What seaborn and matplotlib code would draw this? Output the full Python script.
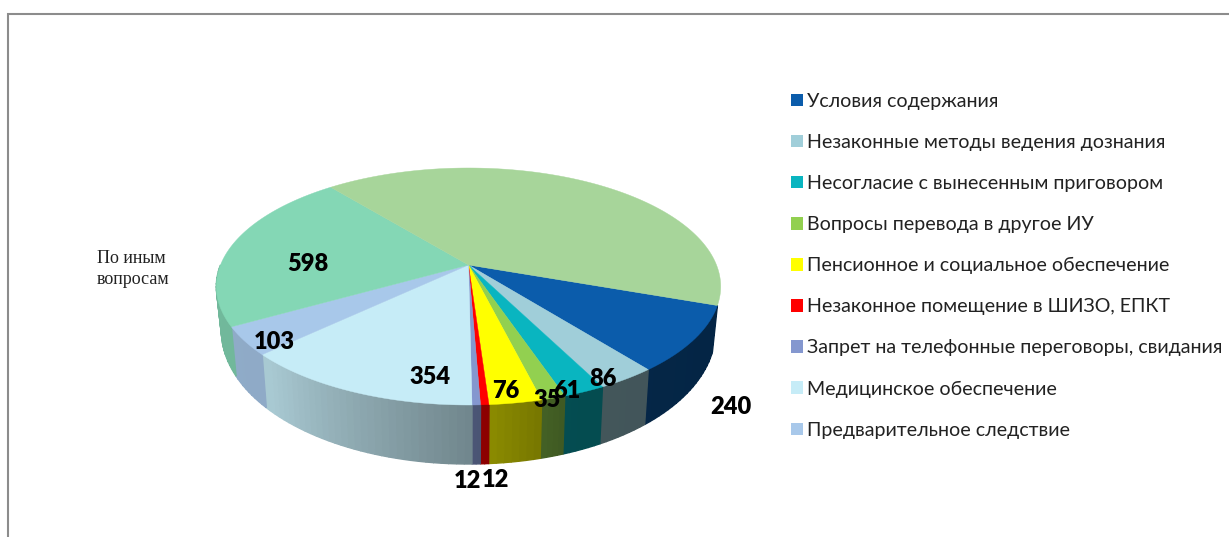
import numpy as np
import matplotlib
matplotlib.use('Agg')
import matplotlib.pyplot as plt
from matplotlib.patches import Patch
import seaborn as sns

categories = [
    'Условия содержания',
    'Незаконные методы ведения дознания',
    'Несогласие с вынесенным приговором',
    'Вопросы перевода в другое ИУ',
    'Пенсионное и социальное обеспечение',
    'Незаконное помещение в ШИЗО, ЕПКТ',
    'Запрет на телефонные переговоры, свидания',
    'Медицинское обеспечение',
    'Предварительное следствие',
    'По иным вопросам',
    'Без подписи',
]
values = [240, 86, 61, 35, 76, 12, 12, 354, 103, 598, 1110]
value_labels = ['240', '86', '61', '35', '76', '12', '12', '354', '103', '598', '']
colors = ['#0b5cab', '#a0ced9', '#09b5c0', '#92d050', '#ffff00', '#ff0000',
          '#8497cf', '#c6ecf7', '#a8c8ea', '#84d7b5', '#a7d59a']

# где стоят подписи значений, в пикселях картинки
label_px = [(731, 407), (603, 379), (567, 391), (547, 400), (506, 391),
            (495, 480), (467, 481), (430, 377), (274, 342), (308, 264)]

sns.set_theme(style='white')
plt.rcParams['font.family'] = ['Lato', 'DejaVu Sans']
palette = sns.color_palette(colors)

fig, ax = plt.subplots(figsize=(12.29, 5.37), dpi=100)
ax.set_position([0, 0, 1, 1])
ax.set_xlim(0, 1229)
ax.set_ylim(537, 0)
ax.axis('off')

# параметры псевдо-3D круга
cx, cy = 468.5, 265
R, B, p = 248, 114.6, 0.1814
start_deg = 19.4


def top_rim(theta):
    s = np.sin(theta)
    k = 1 / (1 - p * s)
    return cx + R * np.cos(theta) * k, cy + B * s * k


def bottom_rim(theta):
    x, y = top_rim(theta)
    return cx + (x - cx) * 0.98, y + 40 + 19 * np.sin(theta)


def shade(deg):
    return np.interp(deg, [20, 70, 88, 134, 180], [0.40, 0.42, 0.56, 0.85, 0.86])


# рамка
ax.plot([8, 8, 1229], [537, 14, 14], color='#8c8c8c', lw=1.5, solid_joinstyle='miter')

edges = start_deg + np.cumsum([0] + values) / sum(values) * 360

# боковые стенки только спереди
for i in range(len(values)):
    a, b = edges[i], min(edges[i + 1], 180)
    if a >= 180:
        continue
    steps = np.linspace(a, b, max(2, int((b - a) / 1.5) + 2))
    for d0, d1 in zip(steps[:-1], steps[1:]):
        t = np.radians(np.linspace(d0, d1, 4))
        xt, yt = top_rim(t)
        xb, yb = bottom_rim(t)
        col = np.array(palette[i]) * shade((d0 + d1) / 2)
        ax.fill(np.r_[xt, xb[::-1]], np.r_[yt, yb[::-1]], facecolor=col,
                edgecolor=col, lw=1.0)

# верхняя грань
for i in range(len(values)):
    t = np.radians(np.linspace(edges[i], edges[i + 1], 200))
    xt, yt = top_rim(t)
    ax.fill(np.r_[cx, xt], np.r_[cy, yt], color=palette[i], lw=0.3)

for text, (x, y) in zip(value_labels, label_px):
    ax.text(x, y, text, ha='center', va='center', fontsize=17, fontweight='heavy', color='black')

ax.text(97, 269, 'По иным\nвопросам', ha='left', va='center', fontsize=13,
        family='Liberation Serif', color='#222222', linespacing=1.35)

handles = [Patch(facecolor=palette[i], edgecolor='none') for i in range(9)]
ax.legend(handles, categories[:9], loc='upper left', bbox_to_anchor=(783, 85),
          bbox_transform=ax.transData, frameon=False, fontsize=14.1,
          handlelength=0.62, handleheight=0.62, handletextpad=0.22,
          labelspacing=1.23, borderpad=0.4, borderaxespad=0, labelcolor='#222222')

fig.savefig('out.png', dpi=100)
